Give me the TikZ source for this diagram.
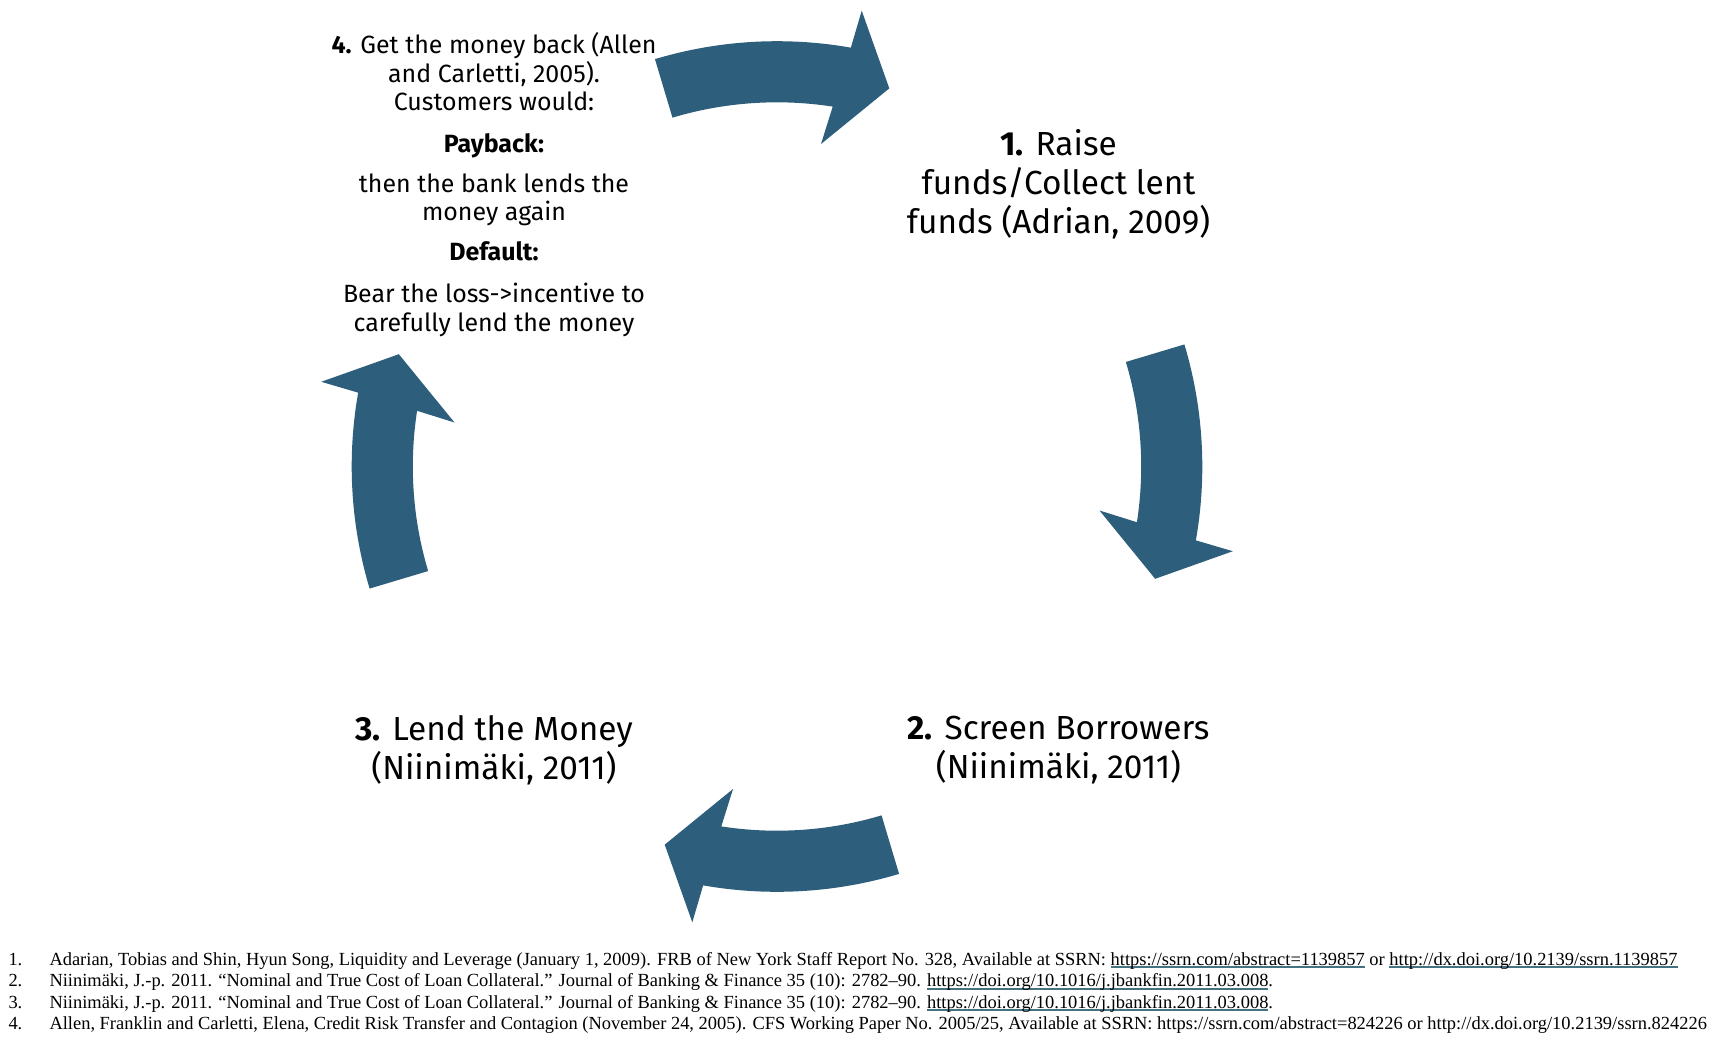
\documentclass[tikz,border=0pt]{standalone}
\usepackage{fontspec}
\usepackage{graphicx}
\setmainfont{Fira Sans}
\newfontfamily\fnfont{Liberation Serif}
\usetikzlibrary{calc}
\definecolor{arrowblue}{RGB}{45,94,124}
\definecolor{linkcol}{RGB}{68,114,128}
\newlength\calw
\newsavebox\lnkbox
\newcommand\lnk[1]{\sbox\lnkbox{#1}\textcolor{linkcol}{\rlap{\rule[-0.17em]{\wd\lnkbox}{0.09em}}\usebox\lnkbox}}
\newcommand\fnA{Adarian, Tobias and Shin, Hyun Song, Liquidity and Leverage (January 1, 2009). FRB of New York Staff Report No. 328, Available at SSRN: \lnk{https://ssrn.com/abstract=1139857} or \lnk{http://dx.doi.org/10.2139/ssrn.1139857}}
\newcommand\fnB{Niinimäki, J.-p. 2011. “Nominal and True Cost of Loan Collateral.” Journal of Banking \& Finance 35 (10): 2782–90. \lnk{https://doi.org/10.1016/j.jbankfin.2011.03.008}.}
\newcommand\fnD{Allen, Franklin and Carletti, Elena, Credit Risk Transfer and Contagion (November 24, 2005). CFS Working Paper No. 2005/25, Available at SSRN: https://ssrn.com/abstract=824226 or http://dx.doi.org/10.2139/ssrn.824226}
\newcommand\cyclearrow[1]{%
  \fill[arrowblue] ({106.68+#1}:364.2) -- ({106.68+#1}:425.3)
    arc[start angle={106.68+#1}, end angle={80.0+#1}, radius=425.3pt]
    -- ({79.47+#1}:463.6) -- ({73.46+#1}:394.5) -- ({82.23+#1}:325.5)
    -- ({81.2+#1}:364.2)
    arc[start angle={81.2+#1}, end angle={106.68+#1}, radius=364.2pt] -- cycle;}
\newcommand\fnline[1]{\scalebox{\fnsx}[1]{#1}}
\tikzset{
  bigtxt/.style={align=center, inner sep=0pt, font=\fontsize{\bigsz}{39}\selectfont},
  smalltxt/.style={align=center, inner sep=0pt, font=\fontsize{\smsz}{28.5}\selectfont},
  fntxt/.style={anchor=base west, inner sep=0pt, font=\fnfont\fontsize{18.5}{22}\selectfont},
}
\begin{document}
\settowidth\calw{\fontsize{10}{12}\selectfont\textbf{2.} Screen Borrowers}%
\pgfmathsetmacro\bigsz{10*302/\calw}%
\settowidth\calw{\fontsize{10}{12}\selectfont\textbf{4.} Get the money back (Allen}%
\pgfmathsetmacro\smsz{10*325/\calw}%
\settowidth\calw{\fnfont\fontsize{18.5}{22}\selectfont\fnA}%
\pgfmathsetmacro\fnsx{1628/\calw}%
\begin{tikzpicture}[x=1pt,y=1pt]
\useasboundingbox (0,0) rectangle (1720,-1042);
\fill[white] (0,0) rectangle (1720,-1042);
% cycle arrows
\begin{scope}[shift={(777,-466.5)}]
  \cyclearrow{0}
  \cyclearrow{-90}
  \cyclearrow{-180}
  \cyclearrow{-270}
\end{scope}
% step texts
\node[bigtxt] (n1) at (1058.5,-184) {\textbf{1.} Raise\\funds/Collect lent\\funds (Adrian, 2009)};
\node[bigtxt] (n2) at (1058.5,-750.5) {\textbf{2.} Screen Borrowers\\(Niinimäki, 2011)};
\node[bigtxt] (n3) at (494,-750.5) {\textbf{3.} Lend the Money\\(Niinimäki, 2011)};
\node[smalltxt] (n4) at (494,-184.5) {\textbf{4.} Get the money back (Allen\\and Carletti, 2005).\\Customers would:\\[13.5pt]\textbf{Payback:}\\[11pt]then the bank lends the\\money again\\[11pt]\textbf{Default:}\\[14pt]Bear the loss->incentive to\\carefully lend the money};
% footnotes
\node[fntxt] (fnum1) at (8.3,-965) {\fnline{1.}};
\node[fntxt] (fnum2) at (8.3,-986.5) {\fnline{2.}};
\node[fntxt] (fnum3) at (8.3,-1008) {\fnline{3.}};
\node[fntxt] (fnum4) at (8.3,-1029.5) {\fnline{4.}};
\node[fntxt] (fn1) at (49.3,-965) {\fnline{\fnA}};
\node[fntxt] (fn2) at (49.3,-986.5) {\fnline{\fnB}};
\node[fntxt] (fn3) at (49.3,-1008) {\fnline{\fnB}};
\node[fntxt] (fn4) at (49.3,-1029.5) {\fnline{\fnD}};
\end{tikzpicture}
\end{document}
